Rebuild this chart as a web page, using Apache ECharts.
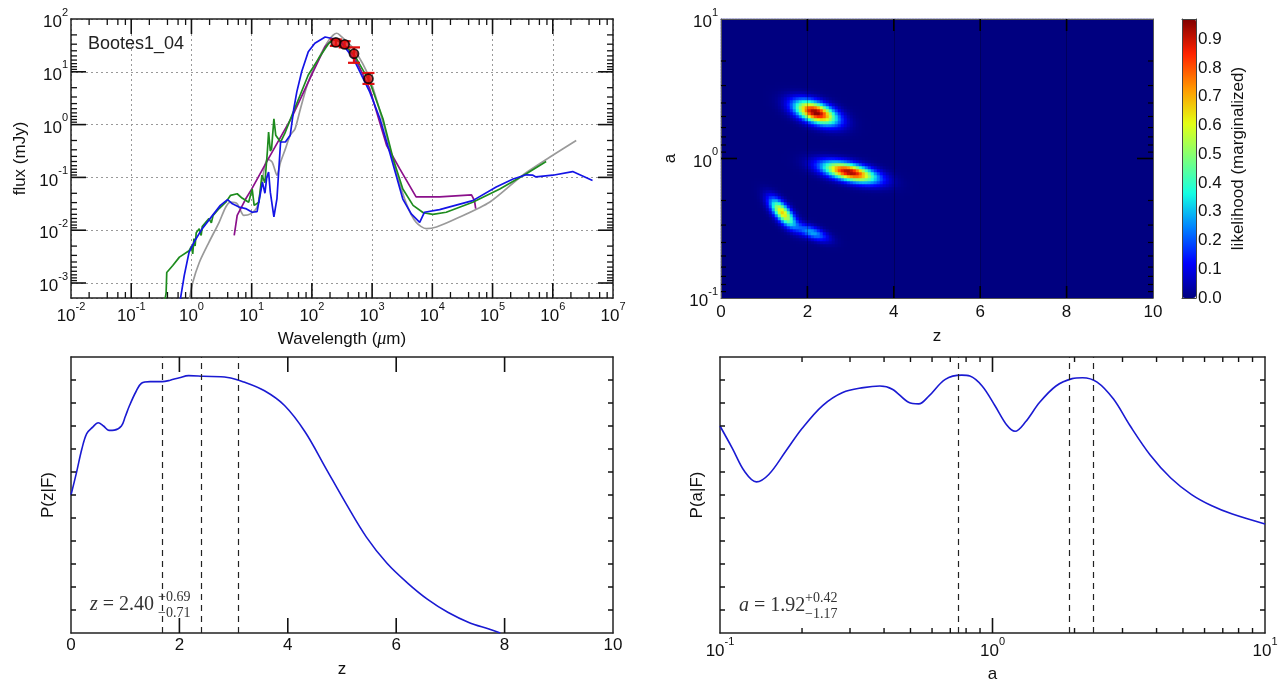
<!DOCTYPE html>
<html><head><meta charset="utf-8">
<script src="https://cdn.jsdelivr.net/npm/echarts@6/dist/echarts.min.js"></script>
<style>html,body{margin:0;padding:0;background:#fff;}#c{width:1278px;height:679px;}</style>
</head><body><div id="c"></div>
<script>
// ---------------- DATA ----------------
// SED models (wavelength in micron, flux in mJy)
const blueWave = [0.646,0.759,0.912,1.10,1.51,2.24,3.02,3.98,4.79,6.17,7.94,10.2,12.3,14.1,15.1,16.6,17.8,19.1,20.4,23.4,26.3,30.2,36.3,43.7,50.1,56.2,67.6,87.1,112,166,288,490,912,1349,1950,3236,4467,6166,7413,13200,46800,115000,219000,363000,468000,525000,1.0e6,2.14e6,4.57e6];
const blueFlux = [4.5e-4,1.38e-3,3.8e-3,5.9e-3,1.07e-2,1.91e-2,2.95e-2,3.8e-2,3.16e-2,2.75e-2,2.57e-2,2.19e-2,2.24e-2,5.25e-2,8.13e-2,5.01e-2,0.1,0.126,5.25e-2,1.78e-2,3.98e-2,0.468,0.468,0.631,2.0,4.17,10,24,34.7,45.7,39.8,17.8,4.17,1.29,0.302,0.0389,0.0204,0.0141,0.0219,0.0245,0.0363,0.0661,0.0933,0.112,0.110,0.102,0.110,0.129,0.0871];
const greenWave = [0.355,0.380,0.389,0.490,0.631,0.912,1.0,1.05,1.10,1.15,1.20,1.35,1.45,1.51,1.95,2.14,2.29,2.88,3.72,4.47,5.75,6.92,8.91,10.2,11.0,13.2,14.8,16.6,18.2,19.1,20.4,21.4,23.4,25.1,30.2,36.3,46.8,60.3,87.1,129,191,229,288,490,912,1514,2239,3236,4786,7079,10200,17000,46800,132000,363000,776000];
const greenFlux = [3.98e-4,6.6e-4,1.58e-3,2.14e-3,3.09e-3,4.07e-3,5.0e-3,3.55e-3,6.92e-3,5.01e-3,8.91e-3,1.07e-2,7.94e-3,1.17e-2,1.66e-2,1.38e-2,1.91e-2,2.57e-2,3.39e-2,4.57e-2,4.9e-2,4.07e-2,3.39e-2,6.03e-2,2.95e-2,3.39e-2,0.110,0.0794,0.302,0.724,0.316,0.347,1.29,0.631,0.468,0.724,1.51,3.09,8.71,17.8,34.7,41.7,37.2,22.4,6.46,1.29,0.224,0.0603,0.0295,0.0214,0.0200,0.0219,0.0339,0.0603,0.117,0.200];
const purpleWave = [5.13,5.75,7.94,10,19.1,46.8,100,166,214,288,490,912,1738,2884,5370,13200,44700,50100,52500];
const purpleFlux = [7.94e-3,1.91e-2,3.89e-2,0.06,0.23,1.4,8.9,30,39.8,39.8,20.9,4.79,0.407,0.145,0.0427,0.0427,0.0468,0.0363,0.0257];
const grayWave = [0.912,1.05,1.35,1.95,2.88,3.72,4.47,5.75,7.41,9.55,12.3,14.8,18.2,21.9,26.3,30.2,36.3,43.7,52.5,64.6,87.1,129,191,257,288,490,912,1514,2512,3715,5370,7943,11700,25100,89100,316000,1.0e6,2.45e6];
const grayFlux = [4.47e-4,1.02e-3,2.45e-3,5.89e-3,1.41e-2,2.75e-2,3.39e-2,3.16e-2,1.91e-2,2.04e-2,2.75e-2,8.13e-2,0.224,0.195,0.110,0.195,0.347,0.631,0.832,2.0,6.46,17.8,39.8,53.7,50.1,27.5,7.41,1.12,0.126,0.0316,0.0141,0.0107,0.0115,0.0166,0.0339,0.110,0.263,0.501];
// observed photometry
const obsWave = [250, 350, 500, 870];
const obsFlux = [36, 33, 22, 7.4];
const obsLow  = [31, 29, 14.8, 5.9];
const obsHigh = [41, 38, 29, 9.5];

// P(z|F)
const pzZ = [0,0.1,0.2,0.29,0.4,0.5,0.6,0.7,0.8,0.93,1.0,1.08,1.2,1.3,1.46,1.68,1.83,2.0,2.17,2.44,2.89,3.19,3.57,3.94,4.32,4.7,5.08,5.45,5.83,6.21,6.58,6.96,7.34,7.71,7.92];
const pzP = [6.0,6.96,8.0,8.67,8.95,9.14,9.0,8.81,8.82,9.0,9.4,9.89,10.5,10.86,10.93,10.93,10.99,11.1,11.19,11.16,11.11,10.91,10.53,9.89,8.74,7.17,5.6,4.17,3.03,2.17,1.46,0.89,0.46,0.17,0.0];
const zMarks = [1.69, 2.40, 3.09];

// P(a|F)
const paA = [0.1,0.111,0.123,0.136,0.151,0.174,0.2,0.238,0.282,0.336,0.386,0.429,0.492,0.536,0.585,0.671,0.771,0.826,0.916,1.02,1.13,1.21,1.32,1.49,1.71,1.96,2.14,2.42,2.78,3.19,3.79,4.51,5.36,6.38,7.59,10];
const paP = [9.0,8.03,7.03,6.57,6.89,7.89,8.89,9.89,10.46,10.67,10.74,10.6,10.03,9.96,10.31,11.03,11.21,11.17,10.74,9.89,9.03,8.77,9.17,10.03,10.74,11.06,11.1,10.91,10.17,9.03,7.74,6.74,6.03,5.53,5.17,4.74];
const aMarks = [0.75, 1.92, 2.34];

// likelihood blobs (centre z, centre a, peak, sigma along/across, tilt deg)
const blobZ = [2.2, 2.98, 1.43, 2.12];
const blobA = [2.14, 0.80, 0.41, 0.295];
const blobPeak = [0.97, 0.95, 0.66, 0.28];
const blobSigMaj = [0.34, 0.42, 0.27, 0.26];
const blobSigMin = [0.15, 0.13, 0.11, 0.095];
const blobAngle = [-20, -13, -49, -22];

// tick labels
const sedXExp = [-2,-1,0,1,2,3,4,5,6,7];
const sedYExp = [-3,-2,-1,0,1,2];
const aExp = [-1,0,1];
const cbLabels = ['0.0','0.1','0.2','0.3','0.4','0.5','0.6','0.7','0.8','0.9'];

// ---------------- HELPERS ----------------
const FONT = '"Liberation Sans", Arial, Helvetica, sans-serif';
const SERIF = '"Liberation Serif", "DejaVu Serif", serif';
const INK = '#111';
const zip = (a, b) => a.map((v, i) => [v, b[i]]);

function expLabel(allowed) {
  return function (v) {
    const l = Math.log10(v), e = Math.round(l);
    if (Math.abs(l - e) > 1e-4 || allowed.indexOf(e) < 0) return '';
    return '{b|10}{s|' + e + '}';
  };
}
const richExp = {
  b: {fontSize: 17, fontFamily: FONT, color: INK, lineHeight: 24, verticalAlign: 'bottom'},
  s: {fontSize: 11, fontFamily: FONT, color: INK, lineHeight: 12, verticalAlign: 'top'}
};

// inward tick marks on one side of a plot frame, positioned through the axis scale
function tickSide(xi, yi, vals, side, edge, mid, len, color, lw) {
  const isX = side === 'bottom' || side === 'top';
  return {
    type: 'custom', xAxisIndex: xi, yAxisIndex: yi, silent: true, clip: false, z: 20,
    data: vals.map(v => isX ? [v, mid] : [mid, v]),
    renderItem: function (params, api) {
      if (isX) {
        const p = api.coord([api.value(0), edge]);
        const y = side === 'bottom' ? p[1] - len : p[1];
        return {type: 'rect', shape: {x: p[0] - lw / 2, y: y, width: lw, height: len}, style: {fill: color}};
      }
      const p = api.coord([edge, api.value(1)]);
      const x = side === 'left' ? p[0] : p[0] - len;
      return {type: 'rect', shape: {x: x, y: p[1] - lw / 2, width: len, height: lw}, style: {fill: color}};
    }
  };
}
function ticks2(xi, yi, vals, dir, eMin, eMax, mid, len, color, lw) {
  return dir === 'x'
    ? [tickSide(xi, yi, vals, 'bottom', eMin, mid, len, color, lw), tickSide(xi, yi, vals, 'top', eMax, mid, len, color, lw)]
    : [tickSide(xi, yi, vals, 'left', eMin, mid, len, color, lw), tickSide(xi, yi, vals, 'right', eMax, mid, len, color, lw)];
}

// tick positions
const sedXMajor = [], sedXMinor = [];
for (let k = -1; k <= 6; k++) sedXMajor.push(Math.pow(10, k));
for (let k = -2; k <= 6; k++) [2, 4, 6, 8].forEach(m => sedXMinor.push(m * Math.pow(10, k)));
const SED_YMIN = 5.2e-4, SED_YMAX = 100;
const sedYMajor = [1e-3, 1e-2, 1e-1, 1, 10];
const sedYMinor = [];
for (let k = -4; k <= 1; k++) for (let n = 2; n <= 9; n++) { const v = Math.pow(10, k + 1) / n; if (v > SED_YMIN && v < SED_YMAX) sedYMinor.push(v); }
const hmXMajor = [2, 4, 6, 8];
const hmYMajor = [1];
const hmYMinor = [];
for (let k = -1; k <= 0; k++) for (let n = 2; n <= 9; n++) hmYMinor.push(Math.pow(10, k + 1) / n);
const pzXMajor = [2, 4, 6, 8];
const pYMajor = [1,2,3,4,5,6,7,8,9,10,11];
const aXMajor = [1];
const aXMinor = [];
for (let k = -1; k <= 0; k++) for (let m = 2; m <= 9; m++) aXMinor.push(m * Math.pow(10, k));

// heatmap grid (cells of 3x3 px)
const NZ = 144, NA = 93, K = 3.22;
const hmX = [], hmY = [], hmData = [];
for (let i = 0; i < NZ; i++) hmX.push(((i + 0.5) * 10 / NZ).toFixed(4));
for (let j = 0; j < NA; j++) hmY.push((-1 + (j + 0.5) * 2 / NA).toFixed(4));
for (let i = 0; i < NZ; i++) {
  const z = (i + 0.5) * 10 / NZ;
  for (let j = 0; j < NA; j++) {
    const la = -1 + (j + 0.5) * 2 / NA;
    let v = 0;
    for (let b = 0; b < blobZ.length; b++) {
      const th = blobAngle[b] * Math.PI / 180;
      const ds = z - blobZ[b], dt = (la - Math.log10(blobA[b])) * K;
      const u = ds * Math.cos(th) + dt * Math.sin(th);
      const w = -ds * Math.sin(th) + dt * Math.cos(th);
      v += blobPeak[b] * Math.exp(-0.5 * (u * u / (blobSigMaj[b] * blobSigMaj[b]) + w * w / (blobSigMin[b] * blobSigMin[b])));
    }
    hmData.push([i, j, Math.min(v, 0.97)]);
  }
}
const jet = ['#000080', '#0000ff', '#0080ff', '#14ffe3', '#7bff7b', '#e3ff14', '#ff9700', '#ff2200', '#800000'];

// ---------------- OPTION ----------------
const axLine = (c, w) => ({show: true, onZero: false, lineStyle: {color: c, width: w}});
const noTick = {show: false};
const noLabel = {show: false};
const nameStyle = {fontSize: 17, fontFamily: FONT, color: INK};

const grids = [
  {left: 71, top: 19, width: 542, height: 279},
  {left: 721, top: 19, width: 432, height: 279},
  {left: 721, top: 19, width: 432, height: 279},
  {left: 71, top: 357, width: 542, height: 276},
  {left: 720, top: 357, width: 545, height: 276},
  {left: 1182, top: 19, width: 14, height: 279}
].map(g => Object.assign(g, {outerBoundsMode: 'none', containLabel: false}));

const xAxis = [
  // 0 SED bottom
  {gridIndex: 0, type: 'log', min: 0.01, max: 1e7, position: 'bottom', axisLine: axLine('#222', 1.5), axisTick: noTick,
   axisLabel: {formatter: expLabel(sedXExp), rich: richExp, margin: 3, showMinLabel: true, showMaxLabel: true},
   splitLine: {show: true, lineStyle: {type: [2, 3], color: '#999', width: 1}},
   name: 'Wavelength ({i|μ}m)', nameLocation: 'middle', nameGap: 32,
   nameTextStyle: Object.assign({rich: {i: {fontStyle: 'italic', fontFamily: SERIF, fontSize: 18, color: INK}}}, nameStyle)},
  // 1 SED top
  {gridIndex: 0, type: 'log', min: 0.01, max: 1e7, position: 'top', axisLine: axLine('#222', 1.5), axisTick: noTick, axisLabel: noLabel, splitLine: {show: false}},
  // 2 heatmap category
  {gridIndex: 1, type: 'category', data: hmX, show: false},
  // 3 heatmap display bottom
  {gridIndex: 2, type: 'value', min: 0, max: 10, interval: 2, position: 'bottom', z: 10,
   axisLine: axLine('#555', 1), axisTick: noTick,
   axisLabel: {fontSize: 17, fontFamily: FONT, color: INK, margin: 6},
   splitLine: {show: true, lineStyle: {color: 'rgba(0,0,0,0.28)', width: 1}},
   name: 'z', nameLocation: 'middle', nameGap: 30, nameTextStyle: nameStyle},
  // 4 heatmap display top
  {gridIndex: 2, type: 'value', min: 0, max: 10, interval: 2, position: 'top', z: 10, axisLine: axLine('#555', 1), axisTick: noTick, axisLabel: noLabel, splitLine: {show: false}},
  // 5 P(z) bottom
  {gridIndex: 3, type: 'value', min: 0, max: 10, interval: 2, position: 'bottom', axisLine: axLine('#222', 1.5), axisTick: noTick,
   axisLabel: {fontSize: 17, fontFamily: FONT, color: INK, margin: 4}, splitLine: {show: false},
   name: 'z', nameLocation: 'middle', nameGap: 28, nameTextStyle: nameStyle},
  // 6 P(z) top
  {gridIndex: 3, type: 'value', min: 0, max: 10, interval: 2, position: 'top', axisLine: axLine('#222', 1.5), axisTick: noTick, axisLabel: noLabel, splitLine: {show: false}},
  // 7 P(a) bottom
  {gridIndex: 4, type: 'log', min: 0.1, max: 10, position: 'bottom', axisLine: axLine('#222', 1.5), axisTick: noTick,
   axisLabel: {formatter: expLabel(aExp), rich: richExp, margin: 3, showMinLabel: true, showMaxLabel: true}, splitLine: {show: false},
   name: 'a', nameLocation: 'middle', nameGap: 33, nameTextStyle: nameStyle},
  // 8 P(a) top
  {gridIndex: 4, type: 'log', min: 0.1, max: 10, position: 'top', axisLine: axLine('#222', 1.5), axisTick: noTick, axisLabel: noLabel, splitLine: {show: false}},
  // 9,10 colorbar frame
  {gridIndex: 5, type: 'value', min: 0, max: 1, position: 'bottom', z: 10, axisLine: axLine('#444', 1), axisTick: noTick, axisLabel: noLabel, splitLine: {show: false}},
  {gridIndex: 5, type: 'value', min: 0, max: 1, position: 'top', z: 10, axisLine: axLine('#444', 1), axisTick: noTick, axisLabel: noLabel, splitLine: {show: false}}
];

const yAxis = [
  // 0 SED left
  {gridIndex: 0, type: 'log', min: SED_YMIN, max: SED_YMAX, position: 'left', axisLine: axLine('#222', 1.5), axisTick: noTick,
   axisLabel: {formatter: expLabel(sedYExp), rich: richExp, margin: 3, showMinLabel: true, showMaxLabel: true},
   splitLine: {show: true, lineStyle: {type: [2, 3], color: '#999', width: 1}},
   name: 'flux (mJy)', nameLocation: 'middle', nameRotate: 90, nameGap: 42, nameTextStyle: nameStyle},
  // 1 SED right
  {gridIndex: 0, type: 'log', min: SED_YMIN, max: SED_YMAX, position: 'right', axisLine: axLine('#222', 1.5), axisTick: noTick, axisLabel: noLabel, splitLine: {show: false}},
  // 2 heatmap category
  {gridIndex: 1, type: 'category', data: hmY, show: false},
  // 3 heatmap display left
  {gridIndex: 2, type: 'log', min: 0.1, max: 10, position: 'left', z: 10, axisLine: axLine('#555', 1), axisTick: noTick,
   axisLabel: {formatter: expLabel(aExp), rich: richExp, margin: 3, showMinLabel: true, showMaxLabel: true}, splitLine: {show: false},
   name: 'a', nameLocation: 'middle', nameRotate: 90, nameGap: 42, nameTextStyle: nameStyle},
  // 4 heatmap display right
  {gridIndex: 2, type: 'log', min: 0.1, max: 10, position: 'right', z: 10, axisLine: axLine('#555', 1), axisTick: noTick, axisLabel: noLabel, splitLine: {show: false}},
  // 5 P(z) left
  {gridIndex: 3, type: 'value', min: 0, max: 12, interval: 1, position: 'left', axisLine: axLine('#222', 1.5), axisTick: noTick, axisLabel: noLabel, splitLine: {show: false},
   name: 'P(z|F)', nameLocation: 'middle', nameRotate: 90, nameGap: 14, nameTextStyle: nameStyle},
  // 6 P(z) right
  {gridIndex: 3, type: 'value', min: 0, max: 12, interval: 1, position: 'right', axisLine: axLine('#222', 1.5), axisTick: noTick, axisLabel: noLabel, splitLine: {show: false}},
  // 7 P(a) left
  {gridIndex: 4, type: 'value', min: 0, max: 12, interval: 1, position: 'left', axisLine: axLine('#222', 1.5), axisTick: noTick, axisLabel: noLabel, splitLine: {show: false},
   name: 'P(a|F)', nameLocation: 'middle', nameRotate: 90, nameGap: 14, nameTextStyle: nameStyle},
  // 8 P(a) right
  {gridIndex: 4, type: 'value', min: 0, max: 12, interval: 1, position: 'right', axisLine: axLine('#222', 1.5), axisTick: noTick, axisLabel: noLabel, splitLine: {show: false}},
  // 9 colorbar left
  {gridIndex: 5, type: 'value', min: 0, max: 0.97, interval: 0.1, position: 'left', z: 10, axisLine: axLine('#444', 1), axisTick: noTick, axisLabel: noLabel, splitLine: {show: false}},
  // 10 colorbar right
  {gridIndex: 5, type: 'value', min: 0, max: 0.97, interval: 0.1, position: 'right', z: 10, axisLine: axLine('#444', 1), axisTick: noTick,
   axisLabel: {fontSize: 17, fontFamily: FONT, color: INK, margin: 2,
     formatter: v => { const i = Math.round(v * 10); return Math.abs(v * 10 - i) < 1e-6 && i < cbLabels.length ? cbLabels[i] : ''; }},
   splitLine: {show: false},
   name: 'likelihood (marginalized)', nameLocation: 'middle', nameRotate: 90, nameGap: 34, nameTextStyle: nameStyle}
];

const sedLine = (name, w, f, color, smooth) => ({
  type: 'line', name: name, xAxisIndex: 0, yAxisIndex: 0, data: zip(w, f), showSymbol: false, symbol: 'none',
  smooth: smooth || false, clip: true, lineStyle: {color: color, width: 1.7}, z: 3, silent: true
});

const heatSeries = {
  type: 'heatmap', xAxisIndex: 2, yAxisIndex: 2, data: hmData, progressive: 0, silent: true,
  itemStyle: {borderWidth: 0}, emphasis: {disabled: true}
};

const series = [
  sedLine('gray', grayWave, grayFlux, '#9a9a9a', 0.25),
  sedLine('purple', purpleWave, purpleFlux, '#8b108b'),
  sedLine('green', greenWave, greenFlux, '#1e8c1e'),
  sedLine('blue', blueWave, blueFlux, '#1414e6'),
  { // error bars
    type: 'custom', xAxisIndex: 0, yAxisIndex: 0, z: 6, silent: true,
    data: obsWave.map((w, i) => [w, obsLow[i], obsHigh[i]]),
    encode: {x: 0, y: [1, 2]},
    renderItem: function (params, api) {
      const x = api.value(0);
      const p1 = api.coord([x, api.value(1)]), p2 = api.coord([x, api.value(2)]);
      const hw = 6, st = {stroke: '#e01010', lineWidth: 2.2};
      return {type: 'group', children: [
        {type: 'line', shape: {x1: p1[0], y1: p1[1], x2: p2[0], y2: p2[1]}, style: st},
        {type: 'line', shape: {x1: p1[0] - hw, y1: p1[1], x2: p1[0] + hw, y2: p1[1]}, style: st},
        {type: 'line', shape: {x1: p2[0] - hw, y1: p2[1], x2: p2[0] + hw, y2: p2[1]}, style: st}
      ]};
    }
  },
  { // observed points
    type: 'scatter', xAxisIndex: 0, yAxisIndex: 0, data: zip(obsWave, obsFlux), symbol: 'circle', symbolSize: 9, z: 7, silent: true,
    itemStyle: {color: '#e01010', borderColor: '#000', borderWidth: 1.8}
  },
  heatSeries,
  { // P(z)
    type: 'line', xAxisIndex: 5, yAxisIndex: 5, data: zip(pzZ, pzP), showSymbol: false, symbol: 'none', smooth: 0.35, silent: true,
    lineStyle: {color: '#1a1ad2', width: 1.6},
    markLine: {symbol: 'none', silent: true, label: {show: false}, animation: false,
      lineStyle: {type: [6, 5], color: '#222', width: 1.2}, data: zMarks.map(v => ({xAxis: v}))}
  },
  { // P(a)
    type: 'line', xAxisIndex: 7, yAxisIndex: 7, data: zip(paA, paP), showSymbol: false, symbol: 'none', smooth: 0.35, silent: true,
    lineStyle: {color: '#1a1ad2', width: 1.6},
    markLine: {symbol: 'none', silent: true, label: {show: false}, animation: false,
      lineStyle: {type: [6, 5], color: '#222', width: 1.2}, data: aMarks.map(v => ({xAxis: v}))}
  }
].concat(
  ticks2(0, 0, sedXMajor, 'x', SED_YMIN, SED_YMAX, 1, 15, INK, 1.6),
  ticks2(0, 0, sedXMinor, 'x', SED_YMIN, SED_YMAX, 1, 6, INK, 1.3),
  ticks2(0, 0, sedYMajor, 'y', 0.01, 1e7, 1, 15, INK, 1.6),
  ticks2(0, 0, sedYMinor, 'y', 0.01, 1e7, 1, 6, INK, 1.3),
  ticks2(3, 3, hmXMajor, 'x', 0.1, 10, 1, 12, '#000', 1.6),
  ticks2(3, 3, hmYMajor, 'y', 0, 10, 5, 16, '#000', 1.6),
  ticks2(3, 3, hmYMinor, 'y', 0, 10, 5, 5, '#000', 1.2),
  ticks2(5, 5, pzXMajor, 'x', 0, 12, 6, 15, INK, 1.6),
  ticks2(5, 5, pYMajor, 'y', 0, 10, 5, 5, INK, 1.5),
  ticks2(7, 7, aXMajor, 'x', 0, 12, 6, 15, INK, 1.6),
  ticks2(7, 7, aXMinor, 'x', 0, 12, 6, 5, INK, 1.4),
  ticks2(7, 7, pYMajor, 'y', 0.1, 10, 1, 5, INK, 1.5)
);

const annot = (x, y, main, sup, sub, sx) => ([
  {type: 'text', x: x, y: y, z: 50, style: {text: main, fontFamily: SERIF, fontSize: 20, fill: '#333', verticalAlign: 'middle',
    rich: {i: {fontStyle: 'italic', fontFamily: SERIF, fontSize: 20, fill: '#333'}}}},
  {type: 'text', x: sx, y: y - 8, z: 50, style: {text: sup, fontFamily: SERIF, fontSize: 14, fill: '#333', verticalAlign: 'middle'}},
  {type: 'text', x: sx, y: y + 8, z: 50, style: {text: sub, fontFamily: SERIF, fontSize: 14, fill: '#333', verticalAlign: 'middle'}}
]);

const option = {
  animation: false,
  backgroundColor: '#fff',
  grid: grids,
  xAxis: xAxis,
  yAxis: yAxis,
  visualMap: {
    type: 'continuous', seriesIndex: series.indexOf(heatSeries), min: 0, max: 0.97, calculable: false, realtime: false, hoverLink: false,
    left: 1182, top: 19, itemWidth: 14, itemHeight: 279, padding: 0, text: null, orient: 'vertical',
    inRange: {color: jet}
  },
  graphic: [
    {type: 'text', x: 88, y: 44, z: 50, style: {text: 'Bootes1_04', fontFamily: FONT, fontSize: 18, fill: '#222', verticalAlign: 'middle'}}
  ].concat(annot(90, 605, '{i|z} = 2.40', '+0.69', '\u22120.71', 158))
   .concat(annot(739, 606, '{i|a} = 1.92', '+0.42', '\u22121.17', 805)),
  series: series
};

const chart = echarts.init(document.getElementById('c'), null, {renderer: 'canvas'});
chart.setOption(option);
</script></body></html>
